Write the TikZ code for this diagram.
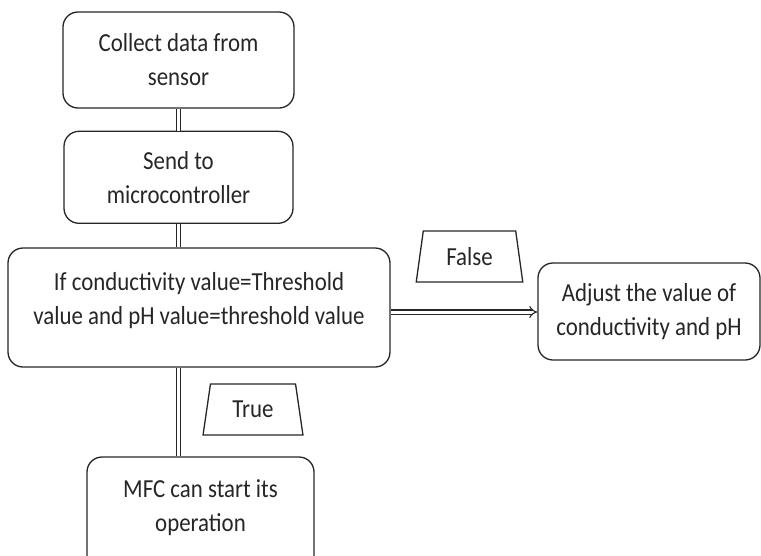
\documentclass[tikz,border=0pt]{standalone}
\usepackage{fontspec}
\setmainfont{Carlito}[FakeStretch=0.88]
\usepackage{tikz}
\usetikzlibrary{shapes.geometric, arrows.meta, positioning}
\tikzset{
  stepbox/.style={rectangle, rounded corners=15pt, draw=black!85, line width=1.3pt,
                  align=center, inner sep=0pt, text=black!85, font=\fontsize{26}{34}\selectfont},
  boxtext/.style={align=center, text=black!85, font=\fontsize{26}{34}\selectfont},
  tag/.style={trapezium, trapezium stretches=true, draw=black!85, line width=1.3pt,
              trapezium left angle=79, trapezium right angle=79, text=black!85,
              minimum height=51pt, inner sep=0pt, font=\fontsize{26}{34}\selectfont},
  link/.style={draw=black!85, line width=1.1pt, double distance=3pt},
}
\begin{document}
\begin{tikzpicture}[x=1pt, y=-1pt]
  \useasboundingbox (0,0) rectangle (761,555);
  \node[stepbox, minimum width=231pt, minimum height=96pt] (collect) at (178.5,60)
       {Collect data from\\sensor};
  \node[stepbox, minimum width=229pt, minimum height=92pt, below=22pt of collect] (send)
       {Send to\\microcontroller};
  \node[stepbox, minimum width=382pt, minimum height=119pt] (check) at (199,307.5) {};
  \node[boxtext] (checktext) at (199,301)
       {If conductivity value=Threshold\\value and pH value=threshold value};
  \node[stepbox, minimum width=222pt, minimum height=97pt] (adjust) at (649,311.5)
       {Adjust the value of\\conductivity and pH};
  \node[stepbox, minimum width=227pt, minimum height=120pt] (start) at (200.5,517) {};
  \node[boxtext] (starttext) at (200.5,508)
       {MFC can start its\\operation};
  \node[tag, minimum width=107pt] (false) at (469.5,256.5) {False};
  \node[tag, minimum width=100pt, trapezium left angle=78, trapezium right angle=78] (true) at (253,409.5) {True};

  \draw[link] (collect.south) -- (send.north);
  \draw[link] (send.south) -- (send.south |- check.north);
  \draw[link, -{Implies}] (check.east |- 0,312) -- (adjust.west |- 0,312);
  \draw[link] (check.south -| send.south) -- (start.north -| send.south);
\end{tikzpicture}
\end{document}
